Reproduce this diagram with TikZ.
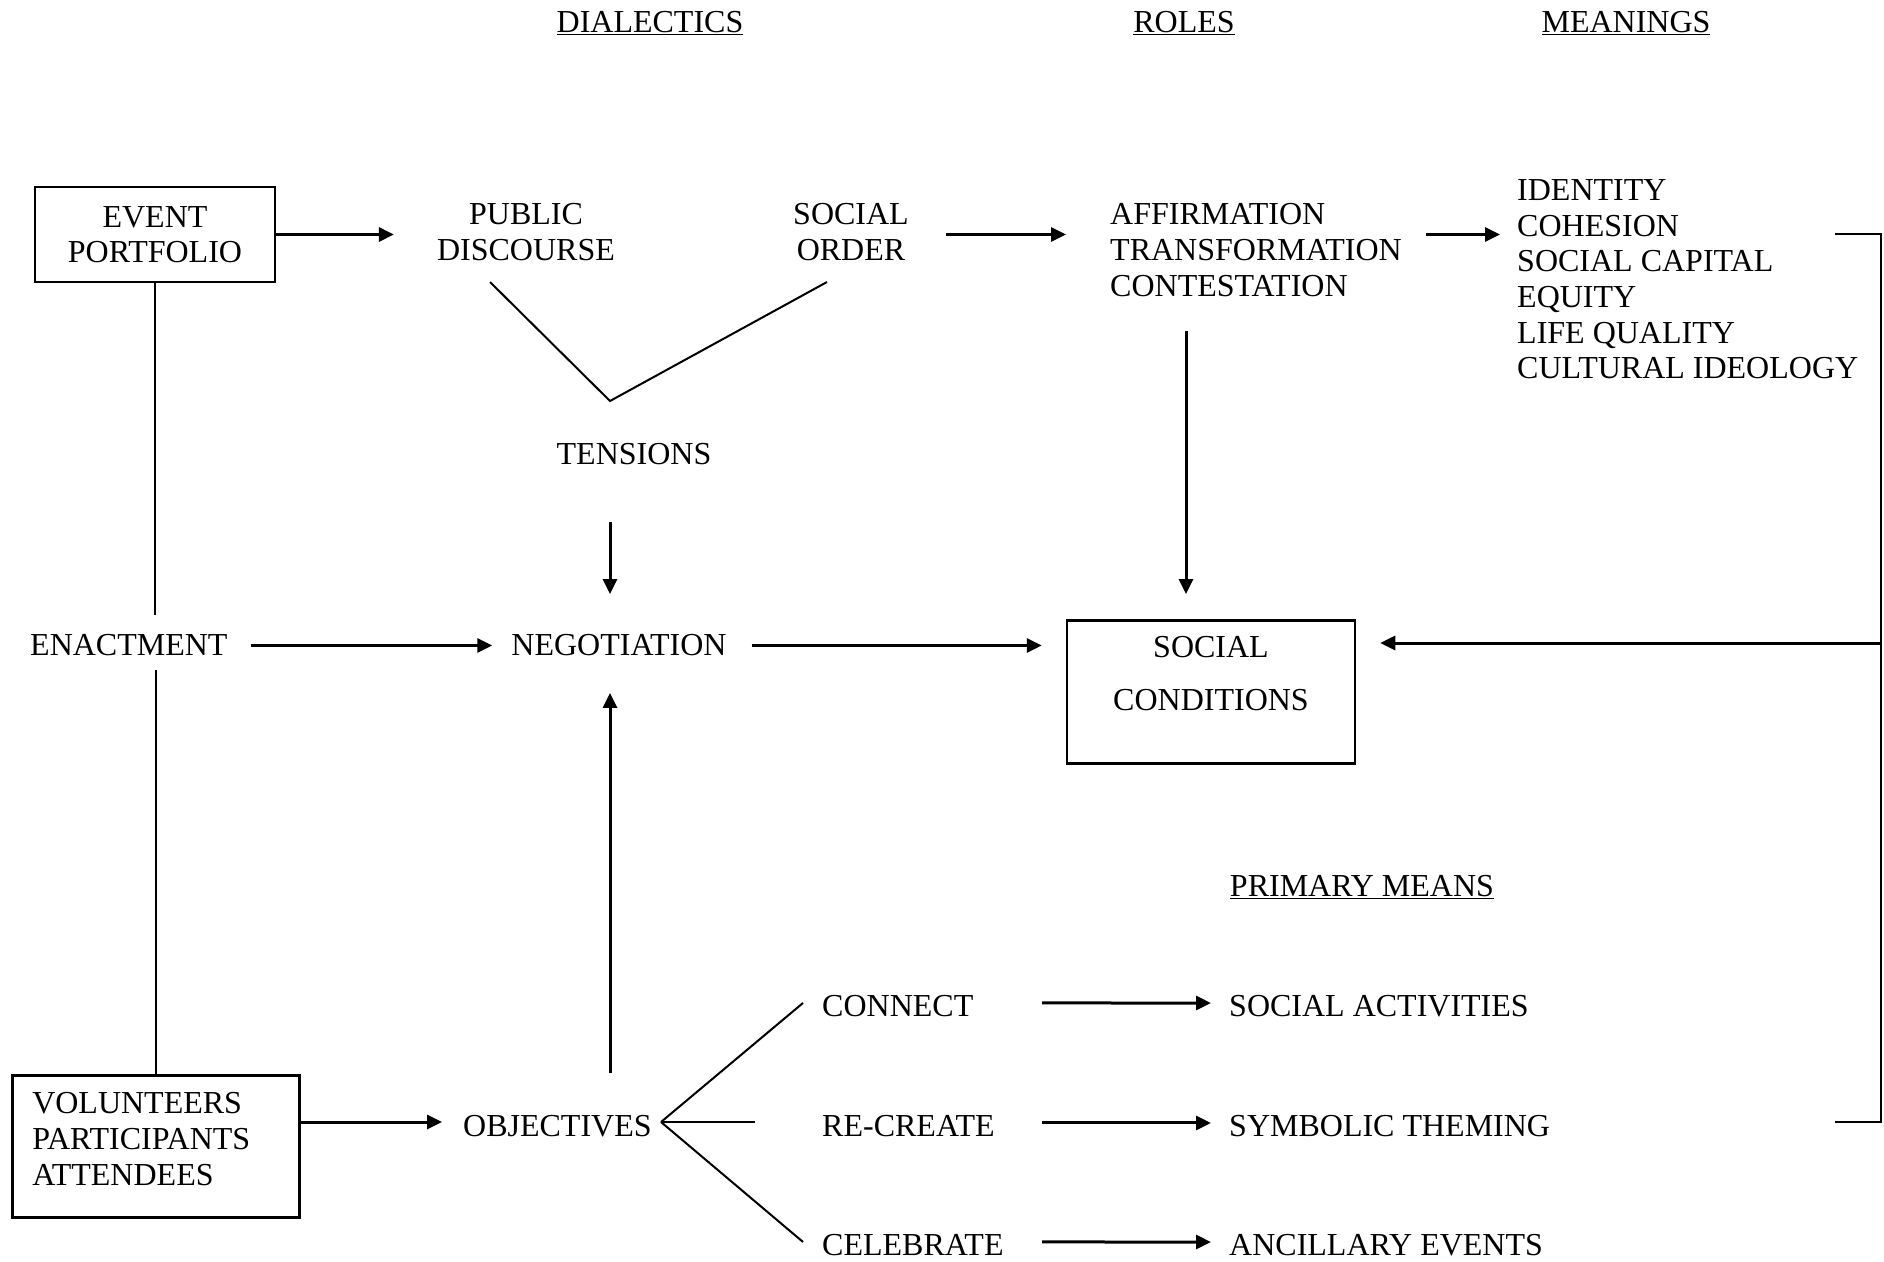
\documentclass[tikz,border=0pt]{standalone}
\usepackage{fontspec}
\setmainfont{Liberation Serif}
\usetikzlibrary{arrows.meta}
\begin{document}
\begin{tikzpicture}[x=1pt,y=-1pt,
  every node/.style={inner sep=0pt, font=\fontsize{32}{35.6}\selectfont},
  boxed/.style={draw, line width=2.5pt},
  arr/.style={line width=3pt, -{Triangle[length=15pt,width=14pt]}},
  ln/.style={line width=2pt}]
\useasboundingbox (0,0) rectangle (1884,1261);
% headers
\node[anchor=north] (h1) at (650,11.5) {\underline{DIALECTICS}};
\node[anchor=north] (h2) at (1184,11.5) {\underline{ROLES}};
\node[anchor=north] (h3) at (1626,11.5) {\underline{MEANINGS}};
\node[anchor=north] (pm) at (1362,875.5) {\underline{PRIMARY MEANS}};
% nodes
\node[boxed, minimum width=240pt, minimum height=95pt, align=center] (ep) at (155,234.5) {EVENT\\PORTFOLIO};
\node[align=center, anchor=north] (pd) at (526,203.5) {PUBLIC\\DISCOURSE};
\node[align=center, anchor=north] (so) at (851,203.5) {SOCIAL\\ORDER};
\node[align=left, anchor=north west] (af) at (1110,203.5) {AFFIRMATION\\TRANSFORMATION\\CONTESTATION};
\node[align=left, anchor=north west] (mn) at (1517,179.5) {IDENTITY\\COHESION\\SOCIAL CAPITAL\\EQUITY\\LIFE QUALITY\\CULTURAL IDEOLOGY};
\node[anchor=north] (ten) at (634,443.5) {TENSIONS};
\node[anchor=north west] (ena) at (30,634.5) {ENACTMENT};
\node[anchor=north] (neg) at (619,634.5) {NEGOTIATION};
\node[boxed, anchor=north, minimum width=288pt, inner ysep=16.5pt, align=center] (sc) at (1211,619) {SOCIAL\\[17.4pt]CONDITIONS\rule[-36pt]{0pt}{36pt}};
\node[boxed, anchor=north west, text width=247pt, inner xsep=20pt, inner ysep=17.5pt, align=left] (vol) at (11,1074) {VOLUNTEERS\\PARTICIPANTS\\ATTENDEES\rule[-15pt]{0pt}{15pt}};
\node[anchor=north west] (obj) at (463,1115.5) {OBJECTIVES};
\node[anchor=north west] (con) at (822,995.5) {CONNECT};
\node[anchor=north west] (rec) at (822,1115.5) {RE-CREATE};
\node[anchor=north west] (cel) at (822,1234.5) {CELEBRATE};
\node[anchor=north west] (sa) at (1229,995.5) {SOCIAL ACTIVITIES};
\node[anchor=north west] (st) at (1229,1115.5) {SYMBOLIC THEMING};
\node[anchor=north west] (ae) at (1229,1234.5) {ANCILLARY EVENTS};
% coordinates
\coordinate (v1) at (490,282);
\coordinate (vt) at (610,401);
\coordinate (v3) at (827,282);
\coordinate (fk) at (661,1122);
\coordinate (bt) at (1835,234);
\coordinate (bb) at (1835,1122);
\coordinate (bx) at (1881,643);
% connectors
\draw[arr, shorten >=43pt] (ep.east) -- (ep.east -| pd.west);
\draw[arr, shorten <=37pt, shorten >=44pt] (so.east |- ep.east) -- (af.west |- ep.east);
\draw[arr, shorten <=24pt, shorten >=17pt] (af.east |- ep.east) -- (mn.west |- ep.east);
\draw[ln] (v1) -- (vt) -- (v3);
\draw[arr, shorten <=56.5pt, shorten >=40.5pt] (ten.south -| vt) -- (neg.north -| vt);
\draw[arr, shorten <=34.5pt, shorten >=25pt] ([xshift=-25pt]sc.north |- af.south) -- ([xshift=-25pt]sc.north);
\draw[ln, shorten >=19.5pt] (ep.south) -- (ep.south |- ena.north);
\draw[ln, shorten >=13.5pt] (vol.north) -- (vol.north |- ena.south);
\draw[arr, shorten <=23pt, shorten >=19pt] (ena.east) -- (ena.east -| neg.west);
\draw[arr, shorten <=25pt, shorten >=24pt] (neg.east) -- (neg.east -| sc.west);
\draw[ln] (bt) -- (bt -| bx) -- (bb -| bx) -- (bb);
\draw[arr, shorten >=24pt] (bx) -- (bx -| sc.east);
\draw[arr, shorten >=21pt] (vol.east |- fk) -- (obj.west |- fk);
\draw[arr, shorten <=42.5pt, shorten >=36.5pt] (obj.north -| vt) -- (neg.south -| vt);
\draw[ln] (fk) -- ([shift={(-19pt,3.5pt)}]con.west);
\draw[ln] (fk) -- ([xshift=-67pt]rec.west |- fk);
\draw[ln] (fk) -- ([shift={(-19pt,3.5pt)}]cel.west);
\draw[arr] ([shift={(220pt,3.5pt)}]con.west) -- ([shift={(-18pt,3.5pt)}]sa.west);
\draw[arr] ([shift={(220pt,3.5pt)}]rec.west) -- ([shift={(-18pt,3.5pt)}]st.west);
\draw[arr] ([shift={(220pt,3.5pt)}]cel.west) -- ([shift={(-18pt,3.5pt)}]ae.west);
\end{tikzpicture}
\end{document}
